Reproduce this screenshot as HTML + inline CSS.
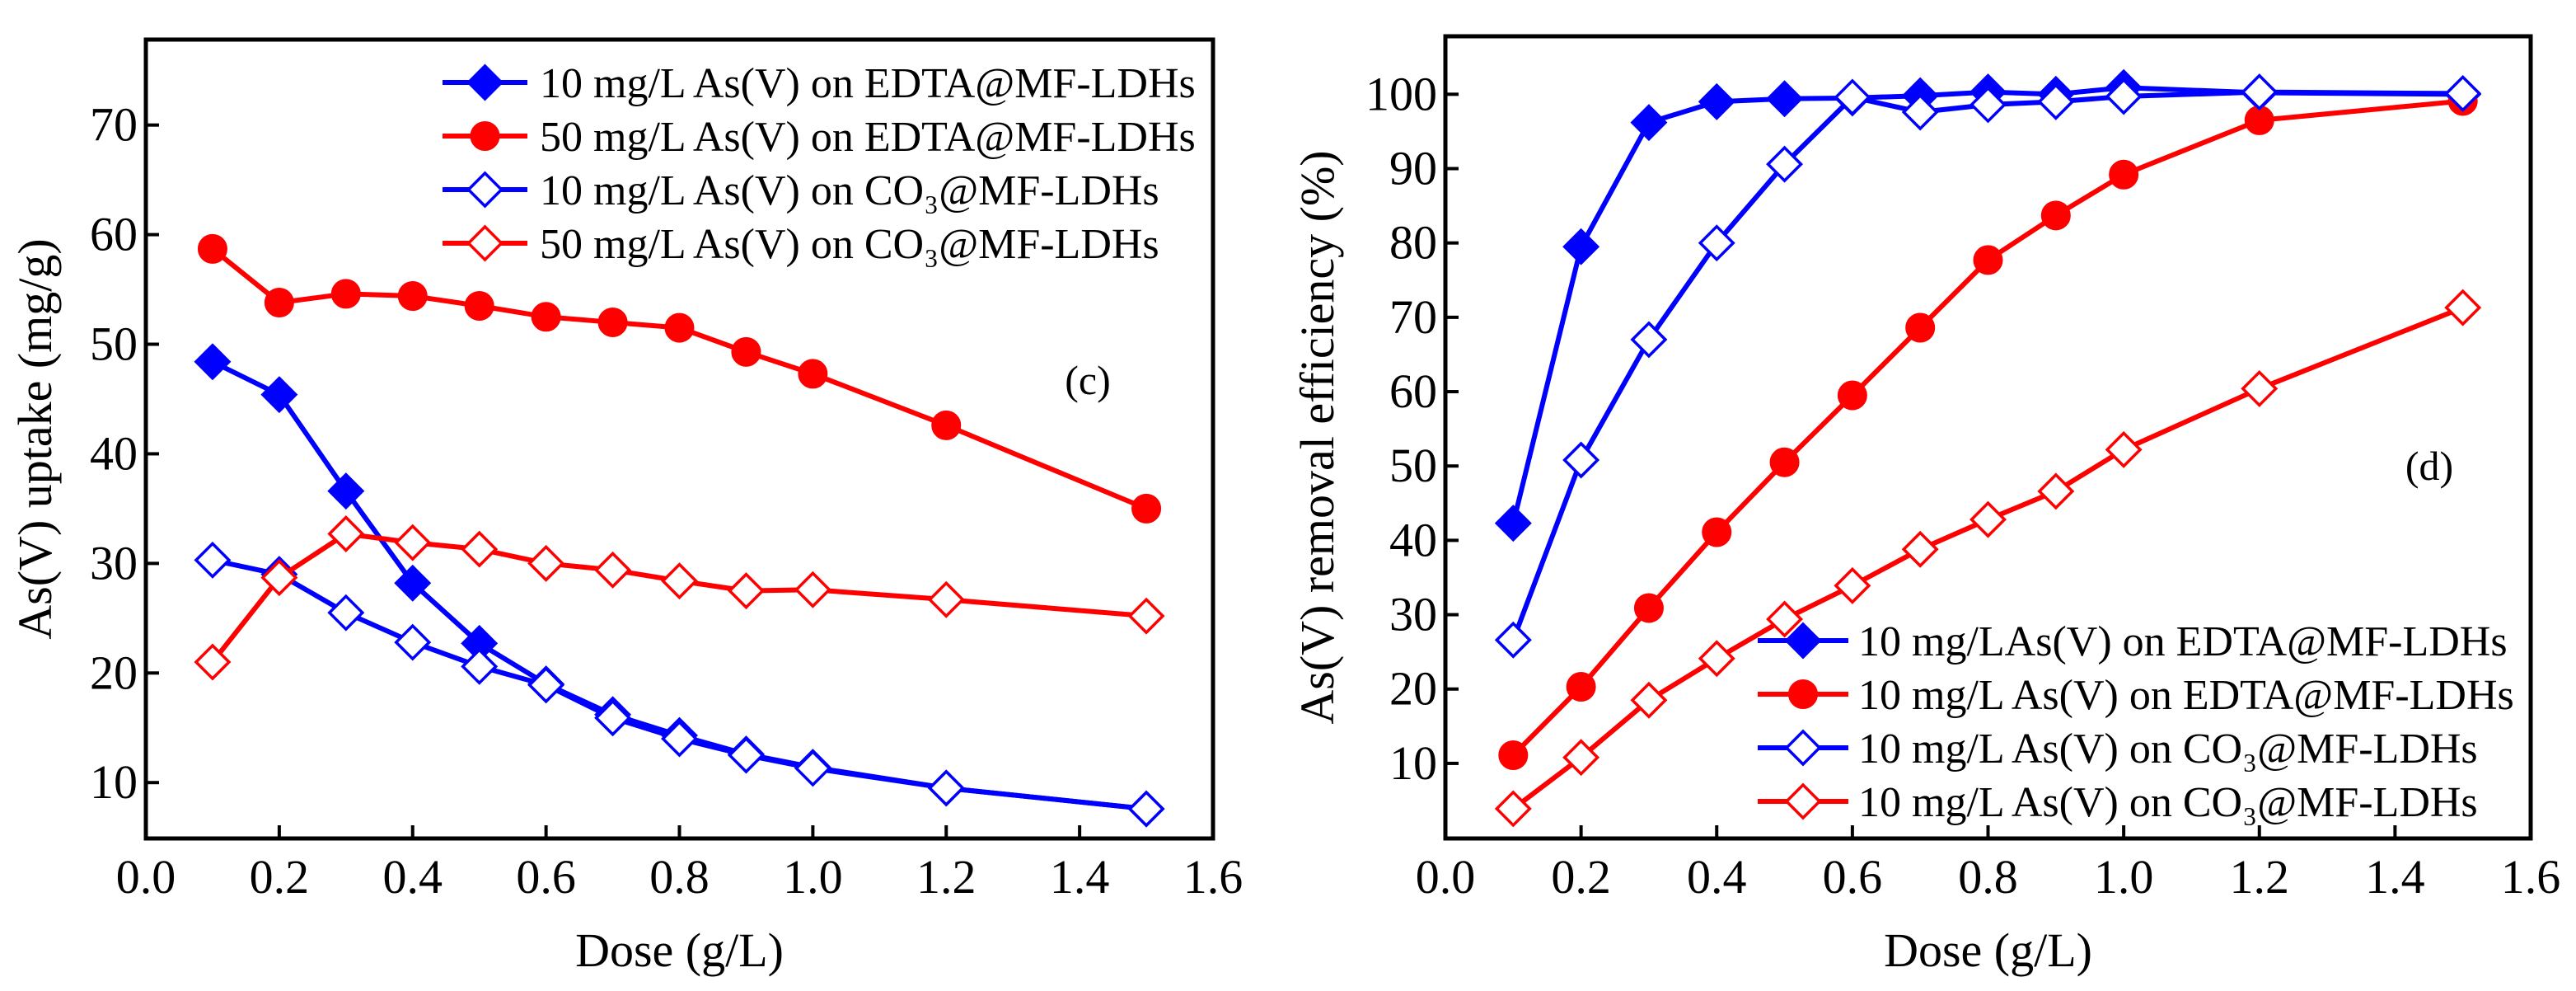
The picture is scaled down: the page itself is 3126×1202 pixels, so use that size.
<!DOCTYPE html>
<html><head><meta charset="utf-8"><style>
html,body{margin:0;padding:0;background:#fff}
svg, svg text{font-family:"Liberation Serif","DejaVu Serif",serif}
</style></head><body>
<svg id="c" width="3126" height="1197" viewBox="0 0 3126 1197" font-family="Liberation Serif, DejaVu Serif, serif"></svg>
<script>
const doses=[0.1,0.2,0.3,0.4,0.5,0.6,0.7,0.8,0.9,1.0,1.2,1.5];
const xTicks=[0.0,0.2,0.4,0.6,0.8,1.0,1.2,1.4,1.6];
const xTickLabels=["0.0","0.2","0.4","0.6","0.8","1.0","1.2","1.4","1.6"];
const uptakeTicks=[10,20,30,40,50,60,70];
const removalTicks=[10,20,30,40,50,60,70,80,90,100];
const upEdta10=[48.4,45.4,36.6,28.2,22.7,19,16.2,14.3,12.6,11.4,9.5,7.6];
const upEdta50=[58.7,53.8,54.6,54.4,53.5,52.5,52,51.5,49.3,47.3,42.6,35];
const upCo10=[30.3,29,25.5,22.8,20.6,18.9,15.9,14,12.5,11.3,9.5,7.6];
const upCo50=[21,28.7,32.7,31.9,31.3,30,29.4,28.4,27.5,27.6,26.7,25.2];
const reEdta10=[42.3,79.5,96.2,99,99.4,99.5,99.8,100.3,100,100.9,100.2,100];
const reEdta50=[11.1,20.3,30.9,41.1,50.5,59.5,68.6,77.7,83.7,89.2,96.5,99.1];
const reCo10=[26.6,50.8,67,80,90.6,99.6,97.6,98.6,99,99.7,100.3,100.1];
const reCo50=[3.9,10.8,18.5,24.1,29.4,33.9,38.8,42.8,46.6,52.2,60.4,71.3];
const legendLeft=["10 mg/L As(V) on EDTA@MF-LDHs","50 mg/L As(V) on EDTA@MF-LDHs","10 mg/L As(V) on CO₃@MF-LDHs","50 mg/L As(V) on CO₃@MF-LDHs"];
const legendRight=["10 mg/LAs(V)  on EDTA@MF-LDHs","10 mg/L As(V) on EDTA@MF-LDHs","10 mg/L As(V) on CO₃@MF-LDHs","10 mg/L As(V) on CO₃@MF-LDHs"];

const svg=document.getElementById('c');
const NS='http://www.w3.org/2000/svg';
const FONT='Liberation Serif, DejaVu Serif, serif';
function mk(tag,attrs,parent){const e=document.createElementNS(NS,tag);for(const k in attrs)e.setAttribute(k,attrs[k]);if(tag==='text')e.setAttribute('font-family',FONT);(parent||svg).appendChild(e);return e;}

function drawMarker(g,type,color,x,y){
  let m;
  if(type==='fd'||type==='od'){
    const r=20;
    m=mk('polygon',{points:`${x},${y-r} ${x+r},${y} ${x},${y+r} ${x-r},${y}`,fill:type==='fd'?color:'#fff',stroke:color,'stroke-width':3.5},g);
  }else{
    m=mk('circle',{cx:x,cy:y,r:17,fill:color,stroke:color,'stroke-width':2},g);
  }
  
  
}

function panel(cfg){
  const {L,R,T,B,ymin,ymax,yTicks,series,legend,leg,ytitle,label,name}=cfg;
  const g=mk('g',{});
  
  
  const sx=v=>L+(v-0)/(1.6-0)*(R-L);
  const sy=v=>B-(v-ymin)/(ymax-ymin)*(B-T);
  series.forEach((s,i)=>{
    const sg=mk('g',{},g);
    
    
    const pts=s.vals.map((v,j)=>sx(doses[j])+','+sy(v)).join(' ');
    const pl=mk('polyline',{points:pts,fill:'none',stroke:s.color,'stroke-width':6,'stroke-linejoin':'round'},sg);
    
    
    s.vals.forEach((v,j)=>drawMarker(sg,s.type,s.color,sx(doses[j]),sy(v)));
  });
  const fr=mk('rect',{x:L,y:T,width:R-L,height:B-T,fill:'none',stroke:'#000','stroke-width':5},g);
  
  
  xTicks.forEach((t,i)=>{
    const x=sx(t);
    if(i>0&&i<xTicks.length-1){const tk=mk('line',{x1:x,y1:B,x2:x,y2:B-16,stroke:'#000','stroke-width':4},g);
      }
    const tl=mk('text',{x:x,y:B+66,'font-size':58,'text-anchor':'middle'},g);
    tl.textContent=xTickLabels[i];
    
    
  });
  yTicks.forEach(t=>{
    const y=sy(t);
    const tk=mk('line',{x1:L,y1:y,x2:L+16,y2:y,stroke:'#000','stroke-width':4},g);
    
    const tl=mk('text',{x:L-10,y:y+19,'font-size':58,'text-anchor':'end'},g);
    tl.textContent=String(t);
    
    
  });
  const xt=mk('text',{x:(L+R)/2,y:1172,'font-size':58,'text-anchor':'middle'},g);
  xt.textContent='Dose (g/L)';
  
  const yt=mk('text',{x:0,y:0,'font-size':58,'text-anchor':'middle',transform:`translate(${ytitle.x},${(T+B)/2}) rotate(-90)`},g);
  yt.textContent=ytitle.text;
  
  const lb=mk('text',{x:label.x,y:label.y,'font-size':50,'text-anchor':'middle'},g);
  lb.textContent=label.text;
  
  legend.forEach((txt,i)=>{
    const lg=mk('g',{},g);
    
    
    const y=leg.y0+i*leg.dy;
    const s=series[i];
    mk('line',{x1:leg.x1,y1:y,x2:leg.x2,y2:y,stroke:s.color,'stroke-width':6},lg);
    drawMarker(lg,s.type,s.color,(leg.x1+leg.x2)/2,y);
    const t=mk('text',{x:leg.tx,y:y+18,'font-size':52},lg);
    t.textContent=txt;
    
    
  });
}

panel({name:'uptake-panel',L:177,R:1472,T:48,B:1017,ymin:4.9,ymax:77.8,yTicks:uptakeTicks,
  series:[{vals:upEdta10,color:'#0000ff',type:'fd'},{vals:upEdta50,color:'#ff0000',type:'fc'},{vals:upCo10,color:'#0000ff',type:'od'},{vals:upCo50,color:'#ff0000',type:'od'}],
  legend:legendLeft,leg:{x1:537,x2:640,tx:655,y0:100,dy:65},
  ytitle:{x:62,text:'As(V) uptake (mg/g)'},label:{x:1320,y:478,text:'(c)'}});
panel({name:'removal-panel',L:1754,R:3071,T:44,B:1017,ymin:-0.1,ymax:107.8,yTicks:removalTicks,
  series:[{vals:reEdta10,color:'#0000ff',type:'fd'},{vals:reEdta50,color:'#ff0000',type:'fc'},{vals:reCo10,color:'#0000ff',type:'od'},{vals:reCo50,color:'#ff0000',type:'od'}],
  legend:legendRight,leg:{x1:2133,x2:2243,tx:2255,y0:777,dy:65},
  ytitle:{x:1618,text:'As(V) removal efficiency (%)'},label:{x:2948,y:582,text:'(d)'}});
</script>
</body></html>
